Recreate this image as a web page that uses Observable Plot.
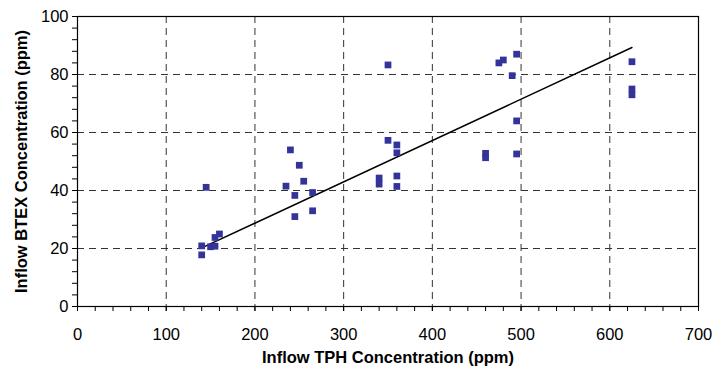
<!DOCTYPE html>
<html>
<head>
<meta charset="utf-8">
<script src="https://cdn.jsdelivr.net/npm/d3@7"></script>
<script src="https://cdn.jsdelivr.net/npm/@observablehq/plot@0.6"></script>
<style>
  html, body { margin: 0; padding: 0; background: white; }
</style>
</head>
<body>
<div id="chart"></div>
<script>
// Data
const tph  = [145, 140, 140, 150, 155, 155, 160,
              235, 240, 245, 245, 250, 255, 265, 265,
              340, 340, 350, 350, 360, 360, 360, 360,
              460, 460, 475, 480, 490, 495, 495, 495,
              625, 625, 625];
const btex = [41.1, 20.9, 17.8, 20.6, 20.8, 23.8, 25.0,
              41.5, 54.0, 38.3, 31.0, 48.7, 43.2, 39.3, 33.0,
              44.3, 42.2, 83.3, 57.3, 55.7, 53.0, 45.0, 41.4,
              52.8, 51.3, 84.0, 85.0, 79.6, 87.0, 64.0, 52.6,
              84.4, 75.0, 73.0];

// Trend line end points
const trendX = [140, 625];
const trendY = [20.2, 89.3];

const xTicks = [0, 100, 200, 300, 400, 500, 600, 700];
const yTicks = [0, 20, 40, 60, 80, 100];
const xGrid = [100, 200, 300, 400, 500, 600];
const yGrid = [20, 40, 60, 80];
const xTitle = "Inflow TPH Concentration (ppm)";
const yTitle = "Inflow BTEX Concentration (ppm)";

const points = tph.map((x, i) => ({x, y: btex[i]}));
const trend = trendX.map((x, i) => ({x, y: trendY[i]}));
const xMinor = d3.range(0, 701, 20);
const yMinor = d3.range(0, 101, 4);

const chart = Plot.plot({
  width: 715,
  height: 373,
  marginLeft: 77,
  marginRight: 17,
  marginTop: 16,
  marginBottom: 67,
  style: {fontFamily: "'Liberation Sans', Arial, sans-serif", fontSize: "16px", color: "black", background: "white"},
  x: {domain: [0, 700]},
  y: {domain: [0, 100]},
  marks: [
    Plot.gridX(xGrid, {stroke: "#333", strokeOpacity: 1, strokeDasharray: "7,5"}),
    Plot.gridY(yGrid, {stroke: "#333", strokeOpacity: 1, strokeDasharray: "7,5"}),
    Plot.frame({stroke: "black", strokeWidth: 1.2}),
    Plot.axisX(xMinor, {tickSize: 5, tickFormat: () => "", label: null}),
    Plot.axisY(yMinor, {tickSize: 5, tickFormat: () => "", label: null}),
    Plot.axisX(xTicks, {tickSize: 5, tickPadding: 17, fontSize: 16.5, label: null}),
    Plot.axisY(yTicks, {tickSize: 5, tickPadding: 4, fontSize: 16.5, label: null}),
    Plot.line(trend, {x: "x", y: "y", stroke: "black", strokeWidth: 1.5}),
    Plot.dot(points, {x: "x", y: "y", symbol: "square", r: 3.8, fill: "#333399", stroke: "none"}),
    Plot.text([xTitle], {text: d => d, frameAnchor: "bottom", dy: 56, textAnchor: "middle", fontWeight: "bold", fontSize: 16.5}),
    Plot.text([yTitle], {text: d => d, frameAnchor: "left", dx: -56, rotate: -90, textAnchor: "middle", fontWeight: "bold", fontSize: 16.5})
  ]
});
document.getElementById("chart").appendChild(chart);
</script>
</body>
</html>
